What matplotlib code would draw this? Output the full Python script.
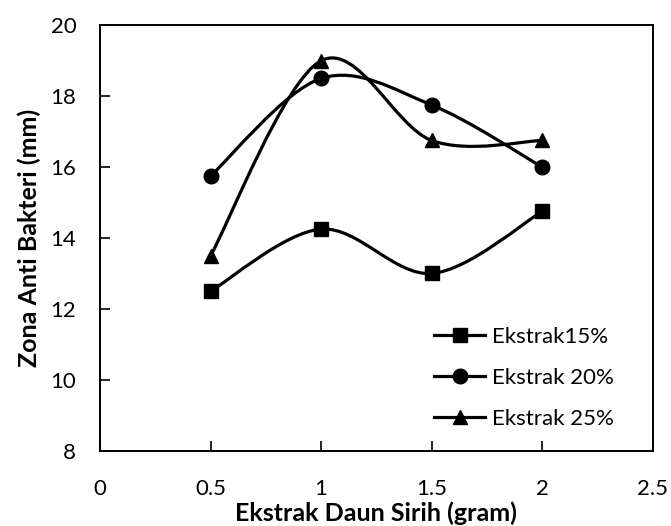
import matplotlib.pyplot as plt
from matplotlib.path import Path
from matplotlib.patches import PathPatch

plt.rcParams["font.family"] = ["Lato", "DejaVu Sans"]

# data
dosis = [0.5, 1.0, 1.5, 2.0]
ekstrak_15 = [12.5, 14.25, 13.0, 14.75]
ekstrak_20 = [15.75, 18.5, 17.75, 16.0]
ekstrak_25 = [13.5, 19.0, 16.75, 16.75]
labels = ["Ekstrak15%", "Ekstrak 20%", "Ekstrak 25%"]
markers = ["s", "o", "^"]


def smooth_path(xs, ys):
    """Excel-like smoothed line: Catmull-Rom turned into cubic Bezier segments."""
    pts = list(zip(xs, ys))
    n = len(pts)
    verts = [pts[0]]
    codes = [Path.MOVETO]
    for i in range(n - 1):
        p0 = pts[i - 1] if i > 0 else pts[i]
        p1 = pts[i]
        p2 = pts[i + 1]
        p3 = pts[i + 2] if i + 2 < n else pts[i + 1]
        c1 = (p1[0] + (p2[0] - p0[0]) / 6, p1[1] + (p2[1] - p0[1]) / 6)
        c2 = (p2[0] - (p3[0] - p1[0]) / 6, p2[1] - (p3[1] - p1[1]) / 6)
        verts += [c1, c2, p2]
        codes += [Path.CURVE4] * 3
    return Path(verts, codes)


fig = plt.figure(figsize=(6.71, 5.26), dpi=100)
ax = fig.add_axes([0.149, 0.143, 0.824, 0.809])

for ys, lab, mk in zip([ekstrak_15, ekstrak_20, ekstrak_25], labels, markers):
    ax.add_patch(PathPatch(smooth_path(dosis, ys), fill=False, color="black",
                           lw=2.3, capstyle="round", joinstyle="round"))
    ax.plot(dosis, ys, linestyle="none", marker=mk, color="black", markersize=10.5)
    # proxy for the legend (line + marker)
    ax.plot([], [], color="black", lw=2.3, marker=mk, markersize=10.5, label=lab)

ax.set_xlim(0, 2.5)
ax.set_ylim(8, 20)
ax.set_xticks([0, 0.5, 1, 1.5, 2, 2.5])
ax.set_xticklabels(["0", "0.5", "1", "1.5", "2", "2.5"])
ax.set_yticks([8, 10, 12, 14, 16, 18, 20])
ax.tick_params(direction="in", length=7, width=1.2, labelsize=16)
ax.tick_params(axis="x", pad=20)
ax.tick_params(axis="y", pad=17)
for s in ax.spines.values():
    s.set_linewidth(1.4)

ax.set_xlabel("Ekstrak Daun Sirih (gram)", fontsize=18, fontweight="bold", labelpad=2)
ax.set_ylabel("Zona Anti Bakteri (mm)", fontsize=18, fontweight="bold", labelpad=7)

ax.legend(loc="upper left", bbox_to_anchor=(0.568, 0.338), frameon=False, fontsize=16,
          handlelength=2.3, handletextpad=0.3, labelspacing=0.95, borderpad=0.4)

plt.savefig("out.png", dpi=100)
plt.close()
